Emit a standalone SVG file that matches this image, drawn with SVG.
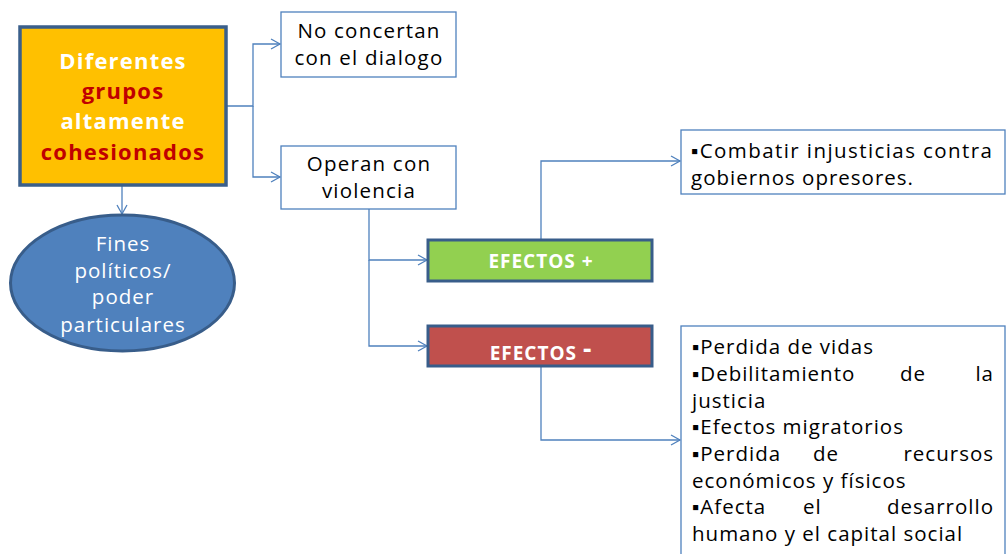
<svg xmlns="http://www.w3.org/2000/svg" width="1008" height="554" viewBox="0 0 1008 554">
<style>
text{font-family:"Open Sans","Liberation Sans",sans-serif}
.c{text-anchor:middle}
.w{fill:#fff}
.k{fill:#000;font-size:20.5px;letter-spacing:1px}
.b{font-weight:bold}
.s{letter-spacing:1.2px}
.box{fill:#fff;stroke:#4F81BD;stroke-width:1.3}
.con{fill:none;stroke:#4F81BD;stroke-width:1.3}
</style>
<defs>
<marker id="a" markerWidth="12" markerHeight="12" refX="10" refY="6" orient="auto" markerUnits="userSpaceOnUse">
<path d="M1,1 L10,6 L1,11" fill="none" stroke="#4F81BD" stroke-width="1.3"/>
</marker>
</defs>
<g id="connectors">
<path class="con" d="M226,106 H253 V44 H280" marker-end="url(#a)"/>
<path class="con" d="M253,106 V177 H280" marker-end="url(#a)"/>
<path class="con" d="M122,186 V214" marker-end="url(#a)"/>
<path class="con" d="M369,209 V260 H427" marker-end="url(#a)"/>
<path class="con" d="M369,260 V346 H427" marker-end="url(#a)"/>
<path class="con" d="M541,239 V161 H680" marker-end="url(#a)"/>
<path class="con" d="M541,367 V440 H680" marker-end="url(#a)"/>
</g>
<g id="n1">
<rect x="20" y="27" width="206" height="158" fill="#FFC000" stroke="#3A5F8B" stroke-width="3.5"/>
<text class="c b s" x="123" y="69" font-size="22" fill="#fff">Diferentes</text>
<text class="c b s" x="123" y="99" font-size="22" fill="#C00000">grupos</text>
<text class="c b s" x="123" y="129" font-size="22" fill="#fff">altamente</text>
<text class="c b s" x="123" y="160" font-size="22" fill="#C00000">cohesionados</text>
</g>
<g id="n2">
<rect class="box" x="281" y="12" width="175" height="65"/>
<text class="c s" x="369" y="38" font-size="20.5">No concertan</text>
<text class="c s" x="369" y="65" font-size="20.5">con el dialogo</text>
</g>
<g id="n3">
<rect class="box" x="281" y="146" width="175" height="63"/>
<text class="c s" x="369" y="171" font-size="20.5">Operan con</text>
<text class="c s" x="369" y="198" font-size="20.5">violencia</text>
</g>
<g id="n4">
<ellipse cx="122.5" cy="283" rx="112" ry="68" fill="#4F81BD" stroke="#385D8A" stroke-width="3"/>
<text class="c w" x="123" y="251" font-size="20.5" letter-spacing="1">Fines</text>
<text class="c w" x="123" y="278" font-size="20.5" letter-spacing="1">políticos/</text>
<text class="c w" x="123" y="304" font-size="20.5" letter-spacing="1">poder</text>
<text class="c w" x="123" y="332" font-size="20.5" letter-spacing="1">particulares</text>
</g>
<g id="n5">
<rect x="428" y="240" width="224" height="41" fill="#92D050" stroke="#385D8A" stroke-width="3"/>
<text class="c w b" x="541" y="268" font-size="19" letter-spacing="1">EFECTOS +</text>
</g>
<g id="n6">
<rect x="428" y="326" width="224" height="40" fill="#C0504D" stroke="#385D8A" stroke-width="3"/>
<text class="c w b" x="541" y="360" font-size="19" letter-spacing="1">EFECTOS <tspan font-size="26" dy="-2">-</tspan></text>
</g>
<g id="n7">
<rect class="box" x="681" y="130" width="324" height="64"/>
<text class="k" x="691" y="158" textLength="302" lengthAdjust="spacing">▪Combatir injusticias contra</text>
<text class="k" x="691" y="185">gobiernos opresores.</text>
</g>
<g id="n8">
<rect class="box" x="681" y="326" width="324" height="240"/>
<text class="k" x="692" y="354">▪Perdida de vidas</text>
<text class="k" x="692" y="381"><tspan>▪Debilitamiento</tspan><tspan x="900">de</tspan><tspan x="994" text-anchor="end">la</tspan></text>
<text class="k" x="692" y="408">justicia</text>
<text class="k" x="692" y="434">▪Efectos migratorios</text>
<text class="k" x="692" y="461"><tspan>▪Perdida</tspan><tspan x="813">de</tspan><tspan x="994" text-anchor="end">recursos</tspan></text>
<text class="k" x="692" y="488">económicos y físicos</text>
<text class="k" x="692" y="514"><tspan>▪Afecta</tspan><tspan x="803">el</tspan><tspan x="994" text-anchor="end">desarrollo</tspan></text>
<text class="k" x="692" y="541">humano y el capital social</text>
</g>
</svg>
